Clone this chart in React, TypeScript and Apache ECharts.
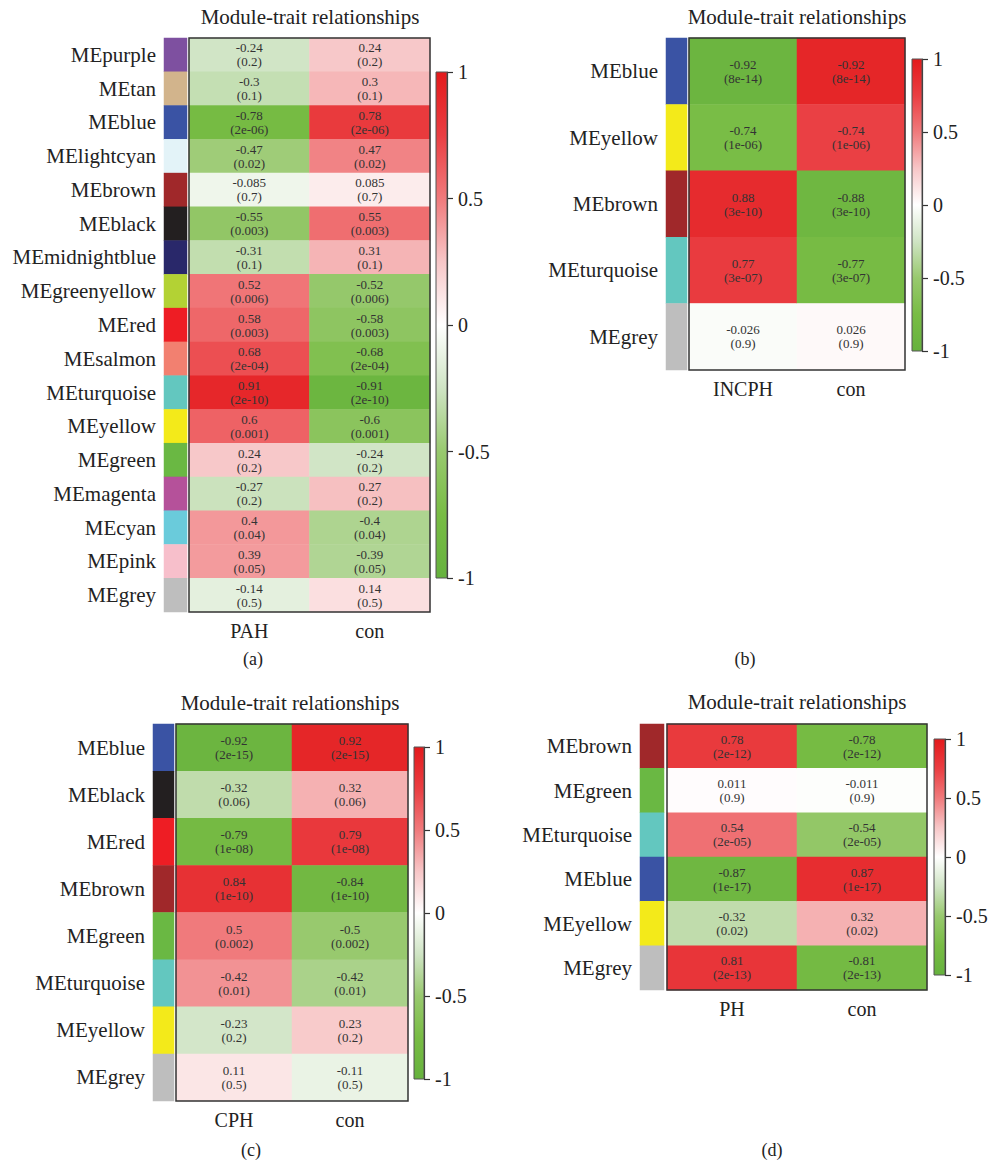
import React, { useEffect, useRef } from "react";
import * as echarts from "echarts";

// ---------- DATA ----------
const TITLE = "Module-trait relationships";

// Panel (a)
const aModules = ["MEpurple", "MEtan", "MEblue", "MElightcyan", "MEbrown", "MEblack", "MEmidnightblue", "MEgreenyellow", "MEred", "MEsalmon", "MEturquoise", "MEyellow", "MEgreen", "MEmagenta", "MEcyan", "MEpink", "MEgrey"];
const aColors = ["#7E50A0", "#D2B48C", "#3A53A4", "#E3F3F8", "#A0282A", "#231F20", "#29286A", "#B3D234", "#EE1D24", "#F28070", "#63C7BF", "#F3EA1A", "#6AB843", "#B5519A", "#6ACBDB", "#F7BFCB", "#BEBEBE"];
const aTraits = ["PAH", "con"];
const aPAH = [-0.24, -0.3, -0.78, -0.47, -0.085, -0.55, -0.31, 0.52, 0.58, 0.68, 0.91, 0.6, 0.24, -0.27, 0.4, 0.39, -0.14];
const aCon = [0.24, 0.3, 0.78, 0.47, 0.085, 0.55, 0.31, -0.52, -0.58, -0.68, -0.91, -0.6, -0.24, 0.27, -0.4, -0.39, 0.14];
const aPAHText = ["-0.24", "-0.3", "-0.78", "-0.47", "-0.085", "-0.55", "-0.31", "0.52", "0.58", "0.68", "0.91", "0.6", "0.24", "-0.27", "0.4", "0.39", "-0.14"];
const aConText = ["0.24", "0.3", "0.78", "0.47", "0.085", "0.55", "0.31", "-0.52", "-0.58", "-0.68", "-0.91", "-0.6", "-0.24", "0.27", "-0.4", "-0.39", "0.14"];
const aP = ["0.2", "0.1", "2e-06", "0.02", "0.7", "0.003", "0.1", "0.006", "0.003", "2e-04", "2e-10", "0.001", "0.2", "0.2", "0.04", "0.05", "0.5"];

// Panel (b)
const bModules = ["MEblue", "MEyellow", "MEbrown", "MEturquoise", "MEgrey"];
const bColors = ["#3A53A4", "#F3EA1A", "#A0282A", "#63C7BF", "#BEBEBE"];
const bTraits = ["INCPH", "con"];
const bINCPH = [-0.92, -0.74, 0.88, 0.77, -0.026];
const bCon = [0.92, 0.74, -0.88, -0.77, 0.026];
const bINCPHText = ["-0.92", "-0.74", "0.88", "0.77", "-0.026"];
const bConText = ["-0.92", "-0.74", "-0.88", "-0.77", "0.026"];
const bP = ["8e-14", "1e-06", "3e-10", "3e-07", "0.9"];

// Panel (c)
const cModules = ["MEblue", "MEblack", "MEred", "MEbrown", "MEgreen", "MEturquoise", "MEyellow", "MEgrey"];
const cColors = ["#3A53A4", "#231F20", "#EE1D24", "#A0282A", "#6AB843", "#63C7BF", "#F3EA1A", "#BEBEBE"];
const cTraits = ["CPH", "con"];
const cCPH = [-0.92, -0.32, -0.79, 0.84, 0.5, 0.42, -0.23, 0.11];
const cCon = [0.92, 0.32, 0.79, -0.84, -0.5, -0.42, 0.23, -0.11];
const cCPHText = ["-0.92", "-0.32", "-0.79", "0.84", "0.5", "-0.42", "-0.23", "0.11"];
const cConText = ["0.92", "0.32", "0.79", "-0.84", "-0.5", "-0.42", "0.23", "-0.11"];
const cP = ["2e-15", "0.06", "1e-08", "1e-10", "0.002", "0.01", "0.2", "0.5"];

// Panel (d)
const dModules = ["MEbrown", "MEgreen", "MEturquoise", "MEblue", "MEyellow", "MEgrey"];
const dColors = ["#A0282A", "#6AB843", "#63C7BF", "#3A53A4", "#F3EA1A", "#BEBEBE"];
const dTraits = ["PH", "con"];
const dPH = [0.78, 0.011, 0.54, -0.87, -0.32, 0.81];
const dCon = [-0.78, -0.011, -0.54, 0.87, 0.32, -0.81];
const dPHText = ["0.78", "0.011", "0.54", "-0.87", "-0.32", "0.81"];
const dConText = ["-0.78", "-0.011", "-0.54", "0.87", "0.32", "-0.81"];
const dP = ["2e-12", "0.9", "2e-05", "1e-17", "0.02", "2e-13"];

const colorbarTicks = [-1, -0.5, 0, 0.5, 1];
const scaleColors = ["#66B23E", "#78BC44", "#98C96E", "#CFE4C4", "#FFFFFF", "#F7C6C7", "#F07A7C", "#EA3E42", "#E31A1C"];
const subLabels = ["(a)", "(b)", "(c)", "(d)"];

// ---------- LAYOUT ----------
const FONT = "'Liberation Serif', 'DejaVu Serif', serif";

const layouts = [
  { title: [310, 6], strip: [164, 187], heat: [189, 430, 38, 612], cbar: [436, 447, 72, 578], sub: [253, 650] },
  { title: [797, 6], strip: [666, 687], heat: [689, 905, 38, 370], cbar: [912, 922, 59, 351], sub: [745, 650] },
  { title: [290, 692], strip: [153, 174], heat: [176, 408, 724, 1101], cbar: [414, 424, 747, 1079], sub: [251, 1141] },
  { title: [797, 691], strip: [640, 664], heat: [667, 927, 724, 990], cbar: [934, 945, 739, 975], sub: [772, 1141] },
];

const panels = [
  { modules: aModules, colors: aColors, traits: aTraits, values: [aPAH, aCon], texts: [aPAHText, aConText], p: aP },
  { modules: bModules, colors: bColors, traits: bTraits, values: [bINCPH, bCon], texts: [bINCPHText, bConText], p: bP },
  { modules: cModules, colors: cColors, traits: cTraits, values: [cCPH, cCon], texts: [cCPHText, cConText], p: cP },
  { modules: dModules, colors: dColors, traits: dTraits, values: [dPH, dCon], texts: [dPHText, dConText], p: dP },
];

function buildOption() {
  const grid: any[] = [];
  const xAxis: any[] = [];
  const yAxis: any[] = [];
  const series: any[] = [];
  const title: any[] = [];
  const graphic: any[] = [];
  const heatSeriesIdx: number[] = [];
  const visualMap: any[] = [];

  const gradStops = scaleColors
    .slice()
    .reverse()
    .map((c, i) => ({ offset: i / (scaleColors.length - 1), color: c }));

  panels.forEach((pn, i) => {
    const L = layouts[i];
    const [hl, hr, ht, hb] = L.heat;
    const [sl, sr] = L.strip;
    const [cl, cr, ct, cb] = L.cbar;

    // heat grid
    grid.push({ left: hl, top: ht, width: hr - hl, height: hb - ht, containLabel: false });
    xAxis.push({
      type: "category",
      gridIndex: 3 * i,
      data: pn.traits,
      position: "bottom",
      axisLine: { show: false },
      axisTick: { show: false },
      splitLine: { show: false },
      axisLabel: { fontSize: 20, fontFamily: FONT, color: "#222", margin: 9 },
    });
    yAxis.push({
      type: "category",
      gridIndex: 3 * i,
      data: pn.modules,
      inverse: true,
      show: false,
    });

    // strip grid
    grid.push({ left: sl, top: ht, width: sr - sl, height: hb - ht, containLabel: false });
    xAxis.push({ type: "category", gridIndex: 3 * i + 1, data: ["m"], show: false });
    yAxis.push({
      type: "category",
      gridIndex: 3 * i + 1,
      data: pn.modules,
      inverse: true,
      axisLine: { show: false },
      axisTick: { show: false },
      splitLine: { show: false },
      axisLabel: { fontSize: 21, fontFamily: FONT, color: "#222", margin: 8 },
    });

    // colorbar grid
    grid.push({ left: cl, top: ct, width: cr - cl, height: cb - ct, containLabel: false });
    xAxis.push({ type: "category", gridIndex: 3 * i + 2, data: ["c"], show: false });
    yAxis.push({
      type: "value",
      gridIndex: 3 * i + 2,
      min: colorbarTicks[0],
      max: colorbarTicks[colorbarTicks.length - 1],
      interval: 0.5,
      position: "right",
      axisLine: { show: true, lineStyle: { color: "#333", width: 1.2 } },
      axisTick: { show: true, length: 6, lineStyle: { color: "#333", width: 1.2 } },
      splitLine: { show: false },
      axisLabel: { fontSize: 20, fontFamily: FONT, color: "#222", margin: 11 },
    });

    // heat series
    const heatData: any[] = [];
    pn.traits.forEach((_, ti) => {
      pn.modules.forEach((_, mi) => {
        heatData.push([ti, mi, pn.values[ti][mi]]);
      });
    });
    heatSeriesIdx.push(series.length);
    const texts = pn.texts;
    const pv = pn.p;
    series.push({
      type: "heatmap",
      xAxisIndex: 3 * i,
      yAxisIndex: 3 * i,
      data: heatData,
      label: {
        show: true,
        formatter: (prm: any) => `${texts[prm.value[0]][prm.value[1]]}\n(${pv[prm.value[1]]})`,
        fontSize: 13,
        lineHeight: 14,
        fontFamily: FONT,
        color: "#333",
      },
      itemStyle: { borderWidth: 0 },
      emphasis: { disabled: true },
    });

    // strip series
    const stripIdx = series.length;
    series.push({
      type: "heatmap",
      xAxisIndex: 3 * i + 1,
      yAxisIndex: 3 * i + 1,
      data: pn.modules.map((_, mi) => [0, mi, mi]),
      label: { show: false },
      emphasis: { disabled: true },
    });
    visualMap.push({
      type: "piecewise",
      show: false,
      seriesIndex: stripIdx,
      dimension: 2,
      pieces: pn.colors.map((c, mi) => ({ value: mi, color: c })),
    });

    // titles
    title.push({
      text: TITLE,
      left: L.title[0],
      top: L.title[1],
      textAlign: "center",
      padding: 0,
      textStyle: { fontSize: 21, fontWeight: "normal", fontFamily: FONT, color: "#222" },
    });
    title.push({
      text: subLabels[i],
      left: L.sub[0],
      top: L.sub[1],
      textAlign: "center",
      padding: 0,
      textStyle: { fontSize: 18, fontWeight: "normal", fontFamily: FONT, color: "#222" },
    });

    // colorbar gradient
    graphic.push({
      type: "rect",
      shape: { x: cl, y: ct, width: cr - cl, height: cb - ct },
      style: {
        fill: new echarts.graphic.LinearGradient(0, 0, 0, 1, gradStops),
        stroke: "#555",
        lineWidth: 1,
      },
      z: 10,
    });
    // heat border
    graphic.push({
      type: "rect",
      shape: { x: hl, y: ht, width: hr - hl, height: hb - ht },
      style: { fill: "none", stroke: "#333", lineWidth: 1.5 },
      z: 100,
    });
  });

  visualMap.unshift({
    type: "continuous",
    show: false,
    min: -1,
    max: 1,
    seriesIndex: heatSeriesIdx,
    inRange: { color: scaleColors },
  });

  return {
    animation: false,
    backgroundColor: "#ffffff",
    textStyle: { fontFamily: FONT },
    title,
    grid,
    xAxis,
    yAxis,
    visualMap,
    series,
    graphic,
  };
}

export default function App() {
  const ref = useRef<HTMLDivElement>(null);
  useEffect(() => {
    document.body.style.margin = "0";
    if (!ref.current) return;
    const chart = echarts.init(ref.current, undefined, { renderer: "svg" });
    chart.setOption(buildOption() as any);
    return () => chart.dispose();
  }, []);
  return <div ref={ref} style={{ width: 994, height: 1172 }} />;
}
